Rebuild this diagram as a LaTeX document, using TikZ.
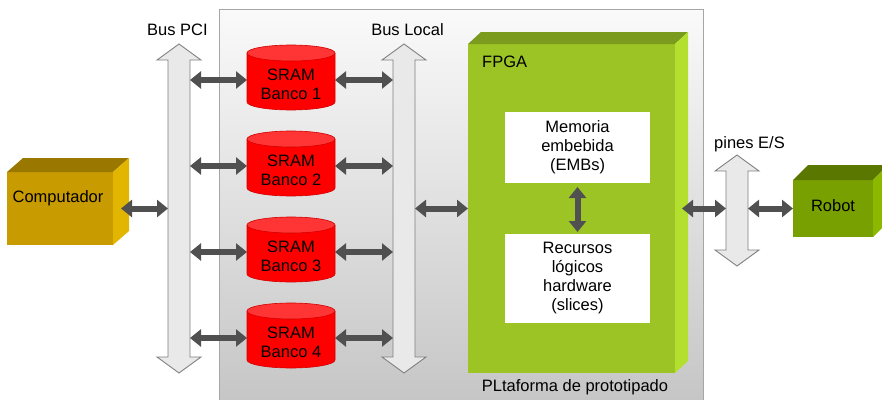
\documentclass[tikz,border=0pt]{standalone}
\usepackage{fontspec}
\setmainfont{Liberation Sans}
\usetikzlibrary{arrows.meta,calc}

\definecolor{compfront}{HTML}{C89B00}
\definecolor{comptop}{HTML}{9A7800}
\definecolor{compside}{HTML}{E2B600}
\definecolor{fpgafront}{HTML}{9DC425}
\definecolor{fpgatop}{HTML}{7A9B1E}
\definecolor{fpgaside}{HTML}{B3E02E}
\definecolor{robfront}{HTML}{78A000}
\definecolor{robtop}{HTML}{5A7800}
\definecolor{robside}{HTML}{8CB800}
\definecolor{sramred}{HTML}{FF0000}
\definecolor{sramtop}{HTML}{FF3535}
\definecolor{sramline}{HTML}{D40000}
\definecolor{busfillc}{HTML}{E9E9E9}
\definecolor{buslinec}{HTML}{808080}
\definecolor{linkc}{HTML}{505050}
\definecolor{platline}{HTML}{A6A6A6}

% double-headed bus arrow: name, centre x, top tip y, bottom tip y
\newcommand\busarrow[4]{%
  \draw[busbody] (#2,#3) -- ({#2+22},{#3+16}) -- ({#2+11},{#3+16})
    -- ({#2+11},{#4-16}) -- ({#2+22},{#4-16}) -- (#2,#4)
    -- ({#2-22},{#4-16}) -- ({#2-11},{#4-16}) -- ({#2-11},{#3+16})
    -- ({#2-22},{#3+16}) -- cycle;
  \node[anchorbox, minimum width=22pt, minimum height={#4-#3-32}] (#1) at (#2,{(#3+#4)/2}) {};
}

\begin{document}
\begin{tikzpicture}[x=1pt,y=-1pt,
  txt/.style={font=\fontsize{16.5}{19}\selectfont, align=center, inner sep=0pt, text=black},
  link/.style={draw=linkc, line width=6pt,
    {Triangle[width=17pt,length=11pt]}-{Triangle[width=17pt,length=11pt]}},
  busbody/.style={fill=busfillc, draw=buslinec, line width=0.9pt},
  anchorbox/.style={inner sep=0pt, outer sep=0pt, draw=none},
  innerbox/.style={fill=white, inner sep=0pt, outer sep=0pt, minimum width=145pt},
]
\useasboundingbox (0,0) rectangle (882,399);
\clip (0,0) rectangle (882,399);

% prototyping platform
\draw[platline, line width=0.8pt, top color=white!98!black, bottom color=black!23]
  (219,9) rectangle (703,412);
\node[txt] (platlabel) at (575,387) {PLtaforma de prototipado};

% buses
\busarrow{pci}{179}{44}{373}
\busarrow{local}{404}{44}{373}
\busarrow{pines}{737}{155}{266}
\node[txt] (pcilabel) at (177.5,30) {Bus PCI};
\node[txt] (locallabel) at (407.5,30) {Bus Local};
\node[txt] (pineslabel) at (749.5,144) {pines E/S};

% SRAM banks
\foreach \i/\cy in {1/80, 2/166, 3/252, 4/338}{
  \fill[sramred] (247,{\cy-27}) -- (247,{\cy+22})
    arc[start angle=180, end angle=360, x radius=44pt, y radius=8pt]
    -- (335,{\cy-27}) -- cycle;
  \draw[sramline, line width=0.6pt] (247,{\cy-27}) -- (247,{\cy+22})
    arc[start angle=180, end angle=360, x radius=44pt, y radius=8pt]
    -- (335,{\cy-27});
  \draw[sramline, fill=sramtop, line width=0.6pt] (291,{\cy-27}) ellipse[x radius=44pt, y radius=8pt];
  \node[anchorbox, minimum width=88pt, minimum height=60pt] (s\i) at (291,\cy) {};
  \node[txt] (st\i) at (291,{\cy+4.5}) {SRAM\\Banco \i};
  \draw[link] (pci.east |- s\i.west) -- (s\i.west);
  \draw[link] (s\i.east) -- (local.west |- s\i.east);
}

% host computer
\node[anchorbox, fill=compfront, minimum width=106pt, minimum height=73pt] (comp) at (60,208.5) {};
\fill[comptop] (comp.north west) -- ++(16,-14) -- ($(comp.north east)+(16,-14)$) -- (comp.north east) -- cycle;
\fill[compside] (comp.north east) -- ++(16,-14) -- ($(comp.south east)+(16,-14)$) -- (comp.south east) -- cycle;
\node[txt] (comptext) at (58,198) {Computador};
\draw[link] ($(comp.east)+(8,0)$) -- (pci.west |- comp.east);

% FPGA
\node[anchorbox, fill=fpgafront, minimum width=207pt, minimum height=329pt] (fpga) at (571.5,208.5) {};
\fill[fpgatop] (fpga.north west) -- ++(13,-12) -- ($(fpga.north east)+(13,-12)$) -- (fpga.north east) -- cycle;
\fill[fpgaside] (fpga.north east) -- ++(13,-12) -- ($(fpga.south east)+(13,-12)$) -- (fpga.south east) -- cycle;
\node[txt, anchor=west] (fpgalabel) at (482,62) {FPGA};
\node[innerbox, txt, minimum height=71pt] (mem) at (577.5,147.5) {Memoria\\embebida\\(EMBs)};
\node[innerbox, txt, minimum height=89pt] (rec) at (577.5,278.5) {Recursos\\lógicos\\hardware\\(slices)};
\draw[link] ($(mem.south)+(0,4)$) -- ($(rec.north)+(0,-2)$);
\draw[link] (local.east |- fpga.west) -- (fpga.west);
\draw[link] ($(fpga.east)+(7,0)$) -- (pines.west |- fpga.east);

% robot
\node[anchorbox, fill=robfront, minimum width=80pt, minimum height=57pt] (robot) at (833,208.5) {};
\fill[robtop] (robot.north west) -- ++(15,-15) -- ($(robot.north east)+(15,-15)$) -- (robot.north east) -- cycle;
\fill[robside] (robot.north east) -- ++(15,-15) -- ($(robot.south east)+(15,-15)$) -- (robot.south east) -- cycle;
\node[txt] (robottext) at (833,206) {Robot};
\draw[link] (pines.east |- robot.west) -- (robot.west);
\end{tikzpicture}
\end{document}
